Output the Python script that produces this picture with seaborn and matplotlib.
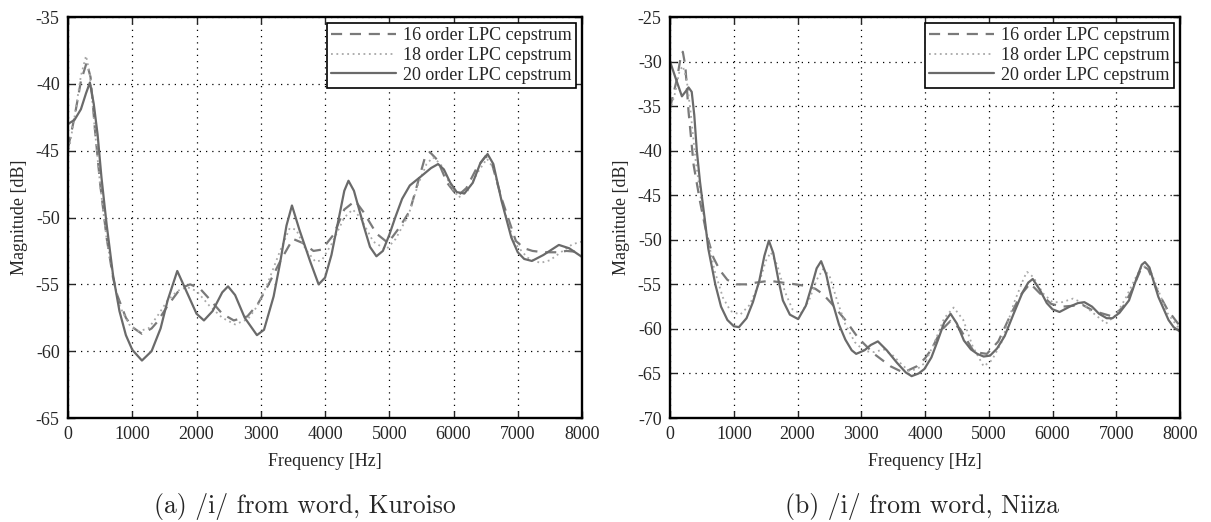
import numpy as np
import matplotlib
matplotlib.use("Agg")
import matplotlib.pyplot as plt
import pandas as pd
import seaborn as sns

# panel (a) /i/ Kuroiso
freq_a_20 = [0, 100, 200, 280, 340, 400, 460, 520, 600, 700, 800, 900, 1000, 1150, 1300, 1440, 1550,
             1700, 1850, 2000, 2115, 2250, 2400, 2490, 2600, 2750, 2940, 3050, 3200, 3300, 3400, 3485,
             3600, 3770, 3900, 4000, 4100, 4200, 4300, 4365, 4450, 4600, 4700, 4800, 4900, 5000, 5100,
             5200, 5320, 5500, 5650, 5760, 5850, 5950, 6050, 6170, 6300, 6420, 6530, 6620, 6750, 6900,
             7000, 7100, 7220, 7400, 7640, 7800, 8000]
mag_a_20 = [-43.0, -42.7, -41.9, -40.7, -39.9, -41.5, -43.8, -47.0, -50.5, -54.3, -57.0, -58.8, -59.9,
            -60.7, -60.0, -58.3, -56.2, -54.0, -55.6, -57.2, -57.7, -57.0, -55.6, -55.15, -55.8, -57.5,
            -58.8, -58.4, -55.9, -53.4, -50.6, -49.1, -50.9, -53.3, -55.0, -54.5, -52.8, -50.4, -48.0,
            -47.25, -48.0, -50.6, -52.2, -52.9, -52.5, -51.3, -49.9, -48.6, -47.6, -46.9, -46.3, -46.0,
            -46.4, -47.4, -48.1, -48.2, -47.4, -45.9, -45.25, -46.0, -48.8, -51.5, -52.6, -53.1, -53.25,
            -52.8, -52.05, -52.3, -52.95]

freq_a_16 = [0, 100, 200, 290, 350, 420, 500, 600, 700, 765, 900, 1000, 1150, 1300, 1390, 1550, 1750,
             1900, 2050, 2220, 2400, 2580, 2790, 2950, 3100, 3310, 3500, 3650, 3820, 3950, 4130, 4300,
             4470, 4600, 4800, 4980, 5150, 5320, 5450, 5550, 5630, 5750, 5900, 6060, 6200, 6350, 6500,
             6600, 6750, 6970, 7100, 7230, 7400, 7600, 7760, 8000]
mag_a_16 = [-44.8, -42.5, -39.8, -38.4, -39.5, -43.5, -47.5, -51.5, -54.5, -55.8, -57.5, -58.2, -58.7,
            -58.3, -57.8, -56.6, -55.3, -55.0, -55.3, -56.2, -57.2, -57.7, -57.4, -56.5, -55.2, -53.2,
            -51.6, -51.9, -52.5, -52.4, -51.3, -49.4, -48.75, -49.6, -51.2, -51.9, -50.8, -49.5, -47.3,
            -45.6, -45.1, -45.7, -47.4, -48.4, -47.8, -46.4, -45.4, -46.0, -48.6, -51.75, -52.3, -52.5,
            -52.6, -52.6, -52.5, -52.6]

freq_a_18 = [0, 100, 200, 280, 340, 420, 500, 600, 700, 800, 950, 1100, 1250, 1400, 1550, 1700, 1850,
             2000, 2200, 2400, 2600, 2800, 2950, 3100, 3300, 3450, 3550, 3700, 3850, 3950, 4100, 4300,
             4430, 4550, 4750, 4950, 5100, 5300, 5450, 5580, 5680, 5800, 5950, 6080, 6220, 6380, 6520,
             6620, 6780, 6950, 7150, 7350, 7500, 7700, 7850, 8000]
mag_a_18 = [-45.3, -42.5, -39.4, -37.9, -39.3, -43.6, -47.6, -51.6, -54.4, -56.6, -58.0, -58.5, -58.3,
            -57.3, -56.2, -55.5, -55.2, -55.5, -56.6, -57.5, -58.0, -57.6, -56.6, -55.0, -52.5, -50.8,
            -50.9, -52.4, -53.3, -53.2, -52.0, -50.0, -49.4, -50.0, -51.8, -52.4, -51.6, -49.8, -47.5,
            -46.0, -45.5, -46.0, -47.6, -48.5, -48.0, -46.6, -45.6, -46.3, -49.3, -51.9, -53.0, -53.4,
            -53.2, -52.5, -52.0, -51.8]

# panel (b) /i/ Niiza
freq_b_20 = [0, 80, 186, 250, 290, 340, 380, 420, 470, 500, 550, 600, 710, 800, 900, 1000, 1080, 1200,
             1300, 1400, 1480, 1550, 1620, 1700, 1770, 1880, 2010, 2130, 2230, 2300, 2370, 2450, 2540,
             2650, 2750, 2850, 2920, 3050, 3150, 3260, 3400, 3560, 3700, 3790, 3900, 3990, 4100, 4200,
             4300, 4400, 4500, 4610, 4720, 4820, 4920, 5020, 5130, 5250, 5390, 5530, 5620, 5690, 5800,
             5910, 6000, 6110, 6270, 6400, 6500, 6620, 6730, 6850, 6940, 7050, 7200, 7320, 7400, 7450,
             7520, 7660, 7820, 7900, 8000]
mag_b_20 = [-30.0, -31.7, -33.9, -33.3, -32.9, -33.4, -36.0, -40.0, -43.5, -45.2, -48.0, -51.0, -55.0,
            -57.5, -59.0, -59.7, -59.8, -58.8, -57.0, -54.6, -51.8, -50.1, -51.5, -54.5, -56.8, -58.4,
            -58.9, -57.4, -55.0, -53.2, -52.4, -53.9, -56.8, -59.5, -61.2, -62.4, -62.8, -62.4, -61.8,
            -61.4, -62.4, -63.8, -64.9, -65.3, -65.0, -64.5, -63.2, -61.3, -59.3, -58.3, -59.4, -61.3,
            -62.3, -62.8, -63.1, -63.0, -62.2, -60.8, -58.3, -55.9, -54.8, -54.4, -55.6, -57.1, -57.8,
            -58.1, -57.5, -57.1, -57.0, -57.5, -58.3, -58.8, -58.8, -58.2, -56.8, -54.3, -52.8, -52.5,
            -53.1, -56.4, -59.0, -59.8, -60.3]

freq_b_16 = [0, 110, 160, 200, 240, 290, 370, 470, 575, 680, 780, 900, 1040, 1200, 1350, 1560, 1760,
             1970, 2150, 2280, 2400, 2540, 2750, 2950, 3200, 3460, 3660, 3870, 4000, 4100, 4250, 4400,
             4550, 4770, 4970, 5150, 5350, 5500, 5650, 5800, 5980, 6160, 6320, 6470, 6650, 6940, 7100,
             7250, 7410, 7500, 7650, 7800, 8000]
mag_b_16 = [-35.2, -31.9, -29.8, -28.9, -30.5, -35.6, -41.6, -45.7, -49.4, -52.0, -53.4, -54.5, -55.0,
            -55.0, -54.8, -54.6, -54.8, -55.0, -55.2, -55.5, -56.1, -57.2, -59.0, -61.0, -62.8, -64.2,
            -64.9, -64.2, -63.3, -62.3, -60.2, -59.1, -60.0, -62.6, -62.8, -61.4, -58.3, -56.2, -54.9,
            -56.0, -57.2, -57.5, -57.4, -57.3, -58.0, -58.6, -57.6, -55.6, -52.9, -53.3, -55.8, -57.8,
            -59.7]

freq_b_18 = [0, 80, 150, 200, 260, 320, 400, 480, 580, 700, 830, 950, 1100, 1250, 1400, 1500, 1580,
             1680, 1800, 1920, 2050, 2180, 2300, 2400, 2500, 2620, 2750, 2900, 3050, 3200, 3350, 3500,
             3650, 3750, 3880, 4000, 4150, 4300, 4450, 4600, 4750, 4920, 5050, 5200, 5400, 5550, 5600,
             5700, 5850, 6000, 6150, 6320, 6450, 6600, 6840, 7000, 7150, 7300, 7410, 7520, 7650, 7800,
             8000]
mag_b_18 = [-35.5, -33.5, -31.0, -30.5, -32.0, -35.5, -41.0, -45.2, -49.5, -53.5, -56.5, -58.0, -58.4,
            -57.3, -54.8, -52.4, -51.4, -52.8, -55.8, -57.8, -58.3, -56.8, -54.5, -53.3, -54.0, -56.8,
            -59.5, -61.5, -62.5, -62.6, -62.3, -63.0, -64.1, -64.7, -64.5, -63.8, -61.5, -58.8, -57.6,
            -59.0, -62.0, -64.2, -63.5, -61.5, -57.0, -54.3, -53.6, -54.2, -56.0, -57.0, -57.0, -56.6,
            -57.0, -58.0, -59.4, -58.4, -56.5, -54.3, -52.9, -53.2, -55.5, -58.2, -60.1]

labels = ["16 order LPC cepstrum", "18 order LPC cepstrum", "20 order LPC cepstrum"]
captions = ["(a) /i/ from word, Kuroiso", "(b) /i/ from word, Niiza"]

sns.set_style("ticks")
plt.rcParams["font.family"] = ["Liberation Serif", "DejaVu Serif"]
plt.rcParams["axes.unicode_minus"] = False

fig = plt.figure(figsize=(12.11, 5.22), dpi=100)
ax_a = fig.add_axes([0.0562, 0.1992, 0.4244, 0.7682])
ax_b = fig.add_axes([0.5533, 0.1992, 0.4211, 0.7682])

panels = [
    (ax_a, [(freq_a_16, mag_a_16), (freq_a_18, mag_a_18), (freq_a_20, mag_a_20)], (-65, -35)),
    (ax_b, [(freq_b_16, mag_b_16), (freq_b_18, mag_b_18), (freq_b_20, mag_b_20)], (-70, -25)),
]
styles = [
    dict(color="#7a7a7a", linestyle=(0, (5, 3.5)), linewidth=1.6),
    dict(color="#a8a8a8", linestyle=(0, (1, 2)), linewidth=1.3),
    dict(color="#6a6a6a", linestyle="-", linewidth=1.6),
]
caption_x = [305 / 1211, 922 / 1211]

for i, (ax, series, ylim) in enumerate(panels):
    for (f, m), lab, st in zip(series, labels, styles):
        sns.lineplot(x=f, y=m, ax=ax, label=lab, **st)
    ax.set_xlim(0, 8000)
    ax.set_ylim(*ylim)
    ax.set_xticks(np.arange(0, 8001, 1000))
    ax.set_yticks(np.arange(ylim[0], ylim[1] + 1, 5))
    ax.grid(True, color="black", linestyle=(0, (1, 4)), linewidth=0.9)
    ax.tick_params(direction="in", top=True, right=True, length=5, width=1,
                   labelsize=13, pad=6)
    for sp in ax.spines.values():
        sp.set_linewidth(1.7)
        sp.set_color("black")
    ax.set_xlabel("Frequency [Hz]", fontsize=13, labelpad=7)
    ax.set_ylabel("Magnitude [dB]", fontsize=13, labelpad=6)
    leg = ax.legend(loc="upper right", fontsize=13, frameon=True, fancybox=False,
                    framealpha=1, edgecolor="black", handlelength=3.6, handletextpad=0.4,
                    labelspacing=0.15, borderpad=0.22, borderaxespad=0.35)
    leg.get_frame().set_linewidth(1.2)
    fig.text(caption_x[i], 15 / 522, captions[i], ha="center", va="center", fontsize=18.5,
             family=["cmr10", "DejaVu Serif"])

fig.savefig("out.png", dpi=100)
